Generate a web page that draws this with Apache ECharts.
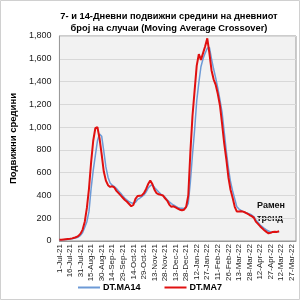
<!DOCTYPE html>
<html>
<head>
<meta charset="utf-8">
<script src="https://cdn.jsdelivr.net/npm/echarts@6/dist/echarts.min.js"></script>
<style>
  html, body { margin: 0; padding: 0; background: #fff; }
  #chart { width: 300px; height: 300px; }
</style>
</head>
<body>
<div id="chart"></div>
<script>
// tick labels every 15 days (one category = 3 days)
const tickLabels = ['1-Jul-21', '16-Jul-21', '31-Jul-21', '15-Aug-21', '30-Aug-21', '14-Sep-21',
  '29-Sep-21', '14-Oct-21', '29-Oct-21', '13-Nov-21', '28-Nov-21', '13-Dec-21', '28-Dec-21',
  '12-Jan-22', '27-Jan-22', '11-Feb-22', '26-Feb-22', '13-Mar-22', '28-Mar-22', '12-Apr-22',
  '27-Apr-22', '12-Mar-22', '27-Mar-22']
const categoryCount = 113

const ma7 = [10, 12, 14, 16, 18, 20, 23, 28, 35, 45, 65, 100, 170, 290, 460, 690, 880, 990, 1000, 900,
  760, 610, 530, 490, 475, 480, 470, 440, 420, 400, 380, 360, 345, 325, 305, 316, 370, 395, 398, 400,
  420, 455, 500, 530, 500, 450, 420, 410, 405, 400, 375, 355, 320, 300, 305, 295, 285, 275, 270, 275,
  300, 400, 780, 1100, 1320, 1540, 1640, 1590, 1650, 1710, 1780, 1650, 1500, 1420, 1370, 1290, 1190, 1030, 860, 720,
  560, 450, 380, 300, 258, 260, 262, 258, 250, 240, 228, 218, 205, 170, 150, 130, 111, 95, 80, 67,
  72, 80, 82, 80, 85]

const ma14 = [8, 10, 12, 14, 16, 18, 20, 23, 28, 35, 50, 75, 120, 170, 260, 460, 620, 750, 880, 940,
  920, 790, 650, 560, 510, 490, 477, 460, 440, 420, 395, 375, 360, 345, 335, 330, 340, 365, 375, 390,
  404, 430, 465, 485, 495, 470, 450, 430, 412, 398, 385, 362, 345, 328, 316, 305, 295, 288, 287, 285,
  295, 330, 520, 760, 975, 1230, 1390, 1530, 1600, 1650, 1692, 1700, 1600, 1510, 1430, 1340, 1240, 1130, 960, 790,
  640, 520, 440, 370, 300, 280, 268, 258, 250, 244, 238, 228, 215, 185, 165, 140, 126, 110, 97, 88,
  78, 76, 80, 82, 82]

const categories = Array.from({ length: categoryCount }, (_, i) => 'c' + i)

const chart = echarts.init(document.getElementById('chart'), null, { renderer: 'canvas' })
chart.setOption({
  animation: false,
  backgroundColor: '#fff',
  title: {
    text: '7- и 14-Дневни подвижни средини на дневниот\nброј на случаи (Moving Average Crossover)',
    left: 164,
    textAlign: 'center',
    top: 5,
    textStyle: { fontFamily: 'Arial, Liberation Sans', fontSize: 9.3, fontWeight: 'bold', color: '#000', lineHeight: 12 }
  },
  grid: { left: 44, right: 4, top: 36, bottom: 59, show: true, backgroundColor: '#f2f2f2', borderColor: '#9a9a9a', borderWidth: 1 },
  legend: {
    bottom: 3,
    left: 'center',
    itemGap: 24,
    itemWidth: 22,
    itemHeight: 2,
    icon: 'rect',
    textStyle: { fontFamily: 'Arial, Liberation Sans', fontSize: 9, fontWeight: 'bold', color: '#000', padding: [0, 0, 0, -2] },
    data: ['DT.MA14', 'DT.MA7']
  },
  xAxis: {
    type: 'category',
    data: categories,
    boundaryGap: false,
    axisLine: { lineStyle: { color: '#9a9a9a' } },
    axisTick: { show: false },
    axisLabel: {
      interval: 4,
      rotate: 90,
      fontFamily: 'Arial, Liberation Sans',
      fontSize: 8,
      color: '#222',
      margin: 3,
      formatter: (v, i) => tickLabels[i / 5] || ''
    }
  },
  yAxis: {
    type: 'value',
    min: 0,
    max: 1800,
    interval: 200,
    name: 'Подвижни средини',
    nameLocation: 'middle',
    nameGap: 33,
    nameRotate: 90,
    nameTextStyle: { fontFamily: 'Arial, Liberation Sans', fontSize: 9.5, fontWeight: 'bold', color: '#000' },
    axisLine: { show: true, lineStyle: { color: '#9a9a9a' } },
    axisTick: { show: false },
    axisLabel: {
      fontFamily: 'Arial, Liberation Sans',
      fontSize: 9,
      color: '#222',
      margin: 8,
      formatter: (v) => v.toLocaleString('en-US')
    },
    splitLine: { lineStyle: { color: '#d8d8d8' } }
  },
  graphic: [
    { type: 'text', left: 257, top: 199, style: { text: 'Рамен\nтренд', fontFamily: 'Arial, Liberation Sans', fontSize: 9, fontWeight: 'bold', fill: '#111', lineHeight: 13, align: 'left' } },
    { type: 'rect', shape: { x: 0.5, y: 0.5, width: 299, height: 299 }, style: { fill: 'none', stroke: '#d0d0d0' }, silent: true }
  ],
  series: [
    {
      name: 'DT.MA14',
      type: 'line',
      data: ma14,
      showSymbol: false,
      lineStyle: { color: '#6d9ad6', width: 1.5 },
      itemStyle: { color: '#6d9ad6' }
    },
    {
      name: 'DT.MA7',
      type: 'line',
      data: ma7,
      showSymbol: false,
      lineStyle: { color: '#e01010', width: 2 },
      itemStyle: { color: '#e01010' }
    }
  ]
})
</script>
</body>
</html>
